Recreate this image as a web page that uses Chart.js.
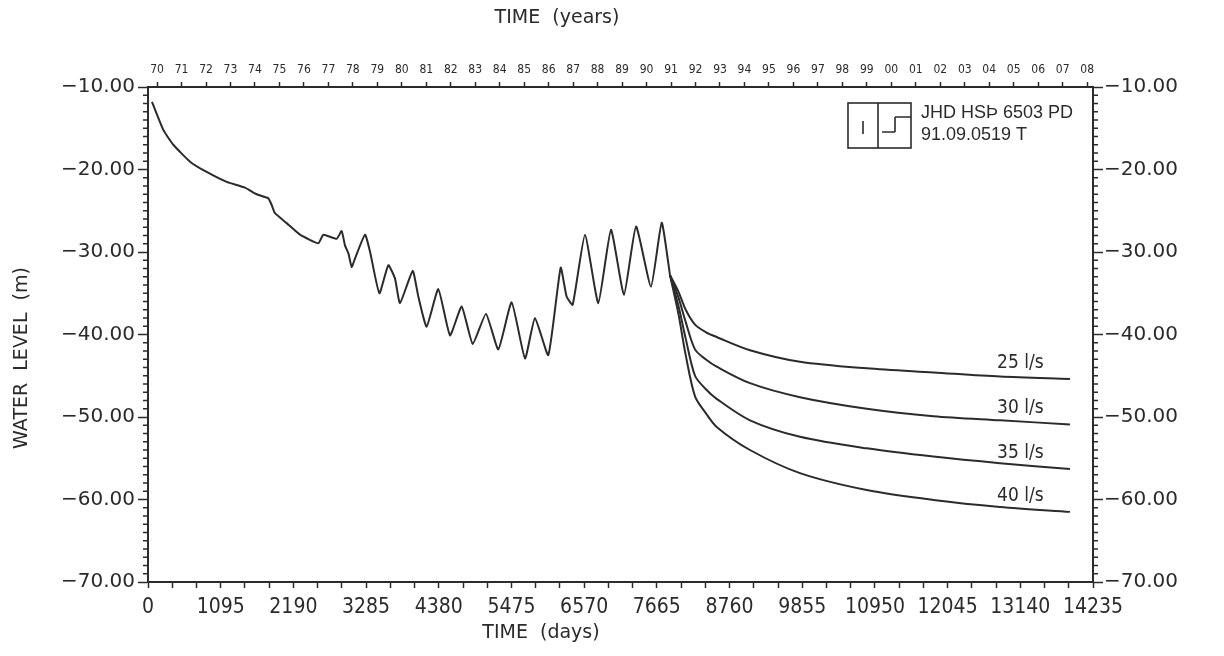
<!DOCTYPE html>
<html>
<head>
<meta charset="utf-8">
<script src="https://cdn.jsdelivr.net/npm/chart.js"></script>
<style>
  body { margin: 0; background: #fff; }
  #wrap { width: 1224px; height: 656px; position: relative; }
</style>
</head>
<body>
<div id="wrap"><canvas id="myChart"></canvas></div>
<script>
// measured water level (days since start, m)
const obsDays = [60, 231, 381, 633, 884, 1185, 1461, 1637, 1813, 1863, 1913, 2089, 2290, 2566, 2641, 2842, 2917, 2967, 3020, 3068, 3118, 3269, 3344, 3485, 3620, 3720, 3796, 3987, 4072, 4197, 4373, 4549, 4725, 4891, 5091, 5277, 5478, 5679, 5829, 6030, 6216, 6306, 6397, 6582, 6783, 6974, 7170, 7351, 7577, 7738, 7863];
const obsLevel = [-11.8, -15.2, -17.0, -19.05, -20.3, -21.5, -22.2, -23.0, -23.5, -24.3, -25.3, -26.5, -27.9, -28.95, -27.9, -28.4, -27.45, -29.2, -30.2, -31.8, -30.8, -27.9, -29.95, -35.0, -31.6, -33.2, -36.2, -32.3, -35.4, -39.05, -34.5, -40.1, -36.6, -41.15, -37.5, -41.8, -36.1, -42.9, -38.0, -42.5, -31.9, -35.4, -36.4, -27.9, -36.2, -27.3, -35.2, -26.9, -34.2, -26.45, -32.8];

// forecasts for different pumping rates
const fcDays = [7863, 7990, 8100, 8240, 8400, 8566, 9068, 9821, 10826, 11830, 12834, 13888];
const fc25 = [-32.8, -34.8, -37.0, -38.8, -39.7, -40.3, -41.9, -43.3, -44.1, -44.6, -45.1, -45.4];
const fc30 = [-32.8, -35.5, -38.5, -41.8, -43.0, -43.9, -45.9, -47.6, -49.0, -49.9, -50.4, -50.9];
const fc35 = [-32.8, -36.5, -40.5, -45.0, -46.6, -47.8, -50.4, -52.4, -53.8, -54.8, -55.6, -56.3];
const fc40 = [-32.8, -37.5, -42.5, -47.5, -49.5, -51.2, -54.0, -56.8, -58.85, -60.05, -60.9, -61.5];
const fcNames = ['25 l/s', '30 l/s', '35 l/s', '40 l/s'];

const yearLabels = ['70','71','72','73','74','75','76','77','78','79','80','81','82','83','84','85','86','87','88','89','90','91','92','93','94','95','96','97','98','99','00','01','02','03','04','05','06','07','08'];

const ink = '#2b2b2b';
const tickFont = "'DejaVu Sans Condensed', 'DejaVu Sans', sans-serif";

function pts(xs, ys) {
    return xs.map((x, i) => ({x: x, y: ys[i]}));
}

function lineSet(label, data, tension) {
    return {
        label: label,
        data: data,
        borderColor: ink,
        borderWidth: 2,
        pointRadius: 0,
        tension: tension,
        fill: false
    };
}

// minor ticks, titles, curve labels and the stamp box
const extras = {
    id: 'extras',
    afterDraw(chart) {
        const ctx = chart.ctx;
        const y = chart.scales.y;
        const x = chart.scales.x;
        ctx.save();
        ctx.strokeStyle = ink;
        ctx.lineWidth = 1.5;
        ctx.beginPath();
        for (let v = -70; v <= -10; v++) {
            if (v % 10 === 0) continue;
            const py = y.getPixelForValue(v);
            ctx.moveTo(y.right, py); ctx.lineTo(y.right - 5, py);
            ctx.moveTo(chart.scales.y2.left, py); ctx.lineTo(chart.scales.y2.left + 5, py);
        }
        ctx.stroke();

        // titles
        ctx.fillStyle = ink;
        ctx.font = "19px 'DejaVu Sans', sans-serif";
        ctx.textAlign = 'center';
        ctx.textBaseline = 'middle';
        ctx.fillText('TIME  (years)', 557, 18);
        ctx.fillText('TIME  (days)', 541, 633);
        ctx.save();
        ctx.translate(22, 358);
        ctx.rotate(-Math.PI / 2);
        ctx.fillText('WATER  LEVEL  (m)', 0, 0);
        ctx.restore();

        // forecast labels
        ctx.font = "19px " + tickFont;
        const sets = [fc25, fc30, fc35, fc40];
        sets.forEach((s, i) => {
            const px = x.getPixelForValue(13140);
            const py = y.getPixelForValue(s[s.length - 1]) - 16;
            ctx.fillText(fcNames[i], px, py);
        });

        // stamp box
        ctx.lineWidth = 1.6;
        ctx.strokeRect(848, 103, 63, 45);
        ctx.beginPath();
        ctx.moveTo(878, 103); ctx.lineTo(878, 148);
        ctx.moveTo(863, 121); ctx.lineTo(863, 134);
        ctx.moveTo(895, 117); ctx.lineTo(911, 117);
        ctx.moveTo(895, 117); ctx.lineTo(895, 132);
        ctx.moveTo(882, 132); ctx.lineTo(895, 132);
        ctx.stroke();
        ctx.textAlign = 'left';
        ctx.font = "18px 'Liberation Sans', Arial, sans-serif";
        ctx.fillText('JHD HSÞ 6503 PD', 921, 113);
        ctx.fillText('91.09.0519 T', 921, 135);
        ctx.restore();
    }
};

const canvas = document.getElementById('myChart');
new Chart(canvas.getContext('2d'), {
    type: 'line',
    data: {
        datasets: [
            lineSet('observed', pts(obsDays, obsLevel), 0.15),
            lineSet(fcNames[0], pts(fcDays, fc25), 0.3),
            lineSet(fcNames[1], pts(fcDays, fc30), 0.3),
            lineSet(fcNames[2], pts(fcDays, fc35), 0.3),
            lineSet(fcNames[3], pts(fcDays, fc40), 0.3)
        ]
    },
    options: {
        responsive: true,
        maintainAspectRatio: false,
        animation: false,
        layout: {padding: 0},
        plugins: {
            legend: {display: false},
            tooltip: {enabled: false}
        },
        scales: {
            x: {
                type: 'linear',
                position: 'bottom',
                min: 0,
                max: 14235,
                afterFit: (s) => { s.height = 74; },
                ticks: {
                    stepSize: 365,
                    autoSkip: false,
                    maxRotation: 0,
                    padding: 7,
                    color: ink,
                    font: {family: tickFont, size: 21},
                    callback: (v) => (v % 1095 === 0 ? String(v) : '')
                },
                grid: {drawOnChartArea: false, tickLength: 6, color: ink, tickWidth: 1.5},
                border: {color: ink, width: 2}
            },
            x2: {
                type: 'linear',
                position: 'top',
                min: -0.37,
                max: 38.24,
                afterFit: (s) => { s.height = 87; },
                afterBuildTicks: (s) => { s.ticks = yearLabels.map((l, i) => ({value: i})); },
                ticks: {
                    autoSkip: false,
                    maxRotation: 0,
                    padding: 5,
                    color: ink,
                    font: {family: tickFont, size: 12},
                    callback: (v, i) => yearLabels[i]
                },
                grid: {drawOnChartArea: false, tickLength: 5, color: ink, tickWidth: 1.5},
                border: {color: ink, width: 2}
            },
            y: {
                type: 'linear',
                position: 'left',
                min: -70,
                max: -10,
                afterFit: (s) => { s.width = 148; },
                ticks: {
                    stepSize: 10,
                    padding: 3,
                    color: ink,
                    font: {family: "'DejaVu Sans', sans-serif", size: 20},
                    callback: (v) => v.toFixed(2).replace('-', '\u2212')
                },
                grid: {drawOnChartArea: false, tickLength: 10, color: ink, tickWidth: 1.5},
                border: {color: ink, width: 2}
            },
            y2: {
                type: 'linear',
                position: 'right',
                min: -70,
                max: -10,
                afterFit: (s) => { s.width = 131; },
                ticks: {
                    stepSize: 10,
                    padding: 1,
                    color: ink,
                    font: {family: "'DejaVu Sans', sans-serif", size: 20},
                    callback: (v) => v.toFixed(2).replace('-', '\u2212')
                },
                grid: {drawOnChartArea: false, tickLength: 10, color: ink, tickWidth: 1.5},
                border: {color: ink, width: 2}
            }
        }
    },
    plugins: [extras]
});
</script>
</body>
</html>
